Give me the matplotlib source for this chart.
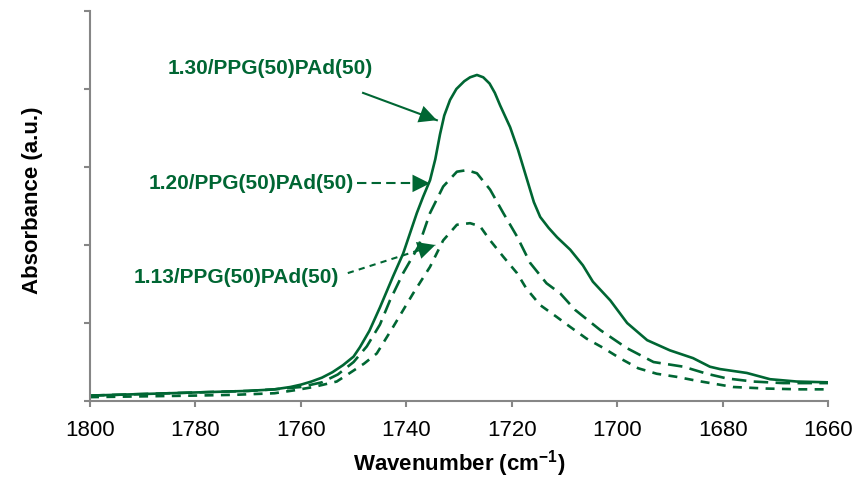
import numpy as np
import matplotlib
matplotlib.use("Agg")
import matplotlib.pyplot as plt

plt.rcParams['font.family'] = ['Liberation Sans', 'DejaVu Sans']

# ---- data ----
wn_130 = [1800, 1795, 1790, 1785, 1780, 1775, 1770, 1765, 1762, 1760, 1758, 1756, 1754,
          1752, 1750, 1748.8, 1747, 1745, 1742.5, 1740.6, 1738, 1736.8, 1735.5, 1734.5,
          1733.6, 1732.8, 1731.7, 1730.5, 1729.0, 1727.9, 1726.6, 1725.4, 1724.2, 1723.2,
          1722.2, 1720.3, 1718.8, 1717.1, 1715.8, 1714.6, 1713.0, 1711.4, 1708.9, 1706.5,
          1704.6, 1701.3, 1698.1, 1694.3, 1690.0, 1685.6, 1682.4, 1680.5, 1675.4, 1671.0,
          1665.9, 1660]
ab_130 = [0.07, 0.08, 0.09, 0.10, 0.11, 0.12, 0.13, 0.15, 0.18, 0.21, 0.25, 0.30, 0.37,
          0.46, 0.57, 0.69, 0.90, 1.20, 1.60, 1.89, 2.41, 2.62, 2.83, 3.10,
          3.42, 3.66, 3.86, 4.00, 4.10, 4.15, 4.18, 4.15, 4.07, 3.95,
          3.79, 3.51, 3.22, 2.84, 2.55, 2.36, 2.22, 2.10, 1.94, 1.74,
          1.53, 1.29, 1.00, 0.78, 0.65, 0.55, 0.44, 0.41, 0.36, 0.28,
          0.25, 0.24]

wn_120 = [1800, 1790, 1780, 1770, 1765, 1760, 1756, 1753, 1750, 1747.5, 1745, 1743.1,
          1740.6, 1737.7, 1735.5, 1733.0, 1730.4, 1728.5, 1726.6, 1724.1, 1721.6, 1719.0,
          1716.5, 1713.4, 1710.8, 1708.0, 1703.2, 1698.2, 1693.1, 1687.4, 1683.0, 1679.2,
          1674.2, 1668.5, 1663.4, 1660]
ab_120 = [0.07, 0.09, 0.11, 0.13, 0.15, 0.18, 0.24, 0.34, 0.50, 0.70, 0.98, 1.29,
          1.64, 1.98, 2.41, 2.75, 2.94, 2.96, 2.92, 2.71, 2.41, 2.11,
          1.77, 1.51, 1.38, 1.17, 0.91, 0.68, 0.50, 0.44, 0.35, 0.29,
          0.25, 0.23, 0.23, 0.23]

wn_113 = [1800, 1790, 1780, 1772.5, 1765, 1761, 1757.6, 1753.2, 1750.7, 1748, 1745.6,
          1742.5, 1738.7, 1735.5, 1733.0, 1730.4, 1727.9, 1726.0, 1724.1, 1721.6, 1719.0,
          1717.2, 1714.6, 1711.5, 1708.9, 1705.8, 1702.6, 1699.5, 1696.0, 1692.5, 1688.7,
          1684.9, 1678.0, 1671.6, 1665.3, 1660]
ab_113 = [0.05, 0.06, 0.07, 0.08, 0.10, 0.14, 0.18, 0.25, 0.36, 0.48, 0.61,
          0.95, 1.38, 1.72, 2.06, 2.26, 2.28, 2.24, 2.06, 1.85, 1.64,
          1.44, 1.23, 1.08, 0.95, 0.80, 0.68, 0.55, 0.42, 0.35, 0.31,
          0.26, 0.18, 0.16, 0.15, 0.15]

labels = ['1.30/PPG(50)PAd(50)', '1.20/PPG(50)PAd(50)', '1.13/PPG(50)PAd(50)']
xticks = [1800, 1780, 1760, 1740, 1720, 1700, 1680, 1660]

GREEN = '#006633'
AXIS = '#868686'

fig = plt.figure(figsize=(8.59, 4.78), dpi=100)
ax = fig.add_axes([0.1048, 0.161, 0.8591, 0.816])

ax.plot(wn_130, ab_130, color=GREEN, lw=1.9, solid_capstyle='round', solid_joinstyle='round')
ax.plot(wn_120, ab_120, color=GREEN, lw=1.9, dashes=(5.5, 2.8))
ax.plot(wn_113, ab_113, color=GREEN, lw=1.9, dashes=(3.4, 2.8))

ax.set_xlim(1800, 1660)
ax.set_ylim(0, 5)
ax.set_xticks(xticks)
ax.set_yticks(range(6))
ax.set_yticklabels([])

for s in ['top', 'right']:
    ax.spines[s].set_visible(False)
for s in ['left', 'bottom']:
    ax.spines[s].set_color(AXIS)
    ax.spines[s].set_linewidth(1.5)
ax.tick_params(axis='both', direction='out', length=4.5, width=1.5, color=AXIS)
ax.tick_params(axis='x', labelsize=16, pad=9)

ax.set_xlabel('Wavenumber (cm$^{\\mathregular{-1}}$)', fontsize=16, fontweight='bold', labelpad=5)
ax.set_ylabel('Absorbance (a.u.)', fontsize=16, fontweight='bold')
ax.yaxis.set_label_coords(-0.064, 0.515)

# labels and arrows
txt_pos = [(1765.9, 4.26), (1769.4, 2.79), (1772.2, 1.59)]
tails = [(1748.2, 3.95), (1749.3, 2.79), (1751.1, 1.64)]
tips = [(1734.2, 3.60), (1735.5, 2.79), (1734.5, 2.00)]
styles = ['-', (0, (4.5, 2.5)), (0, (3, 2.5))]

for lab, tp, tl, tip, st in zip(labels, txt_pos, tails, tips, styles):
    ax.text(tp[0], tp[1], lab, ha='center', va='center', fontsize=15,
            fontweight='bold', color=GREEN)
    # shaft
    ax.plot([tl[0], tip[0]], [tl[1], tip[1]], color=GREEN, lw=1.5, linestyle=st)
    # head
    ax.annotate('', xy=tip, xytext=tl,
                arrowprops=dict(arrowstyle='-|>,head_length=0.9,head_width=0.45',
                                color=GREEN, lw=0, shrinkA=0, shrinkB=0,
                                mutation_scale=14))

fig.savefig('out.png', dpi=100)
